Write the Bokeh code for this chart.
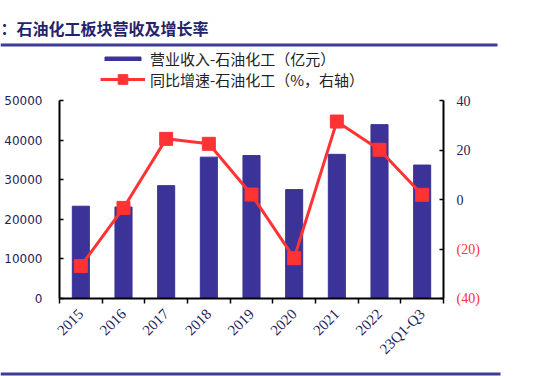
import math
from bokeh.plotting import figure
from bokeh.layouts import column, row
from bokeh.models import (Range1d, LinearAxis, FixedTicker, ColumnDataSource, Label,
                          BoxAnnotation, Legend, LegendItem)
from bokeh.embed import file_html
from bokeh.resources import INLINE

categories = ["2015", "2016", "2017", "2018", "2019", "2020", "2021", "2022", "23Q1-Q3"]
revenue = [23300, 23100, 28500, 35700, 36100, 27500, 36400, 43900, 33700]
growth = [-26.9, -3.4, 24.5, 22.5, 2.0, -23.7, 31.5, 20.1, 1.9]
left_ticks = [0, 10000, 20000, 30000, 40000, 50000]
right_ticks = [40, 20, 0, -20, -40]
right_labels = ["40", "20", "0", "(20)", "(40)"]
title_text = "：石油化工板块营收及增长率"
legend_labels = ["营业收入-石油化工（亿元）", "同比增速-石油化工（%，右轴）"]

NAVY = "#3b3397"
RED = "#ff3333"
TXT = "#1e1e5a"
RULE = "#3f3b98"
SERIF = "Liberation Serif"
SANS = "DejaVu Sans"
CJK = "Noto Sans CJK SC"
NAN = float("nan")

W, H = 535, 376
TOP_H = 88          # header strip
MAIN_H = 278        # chart strip
FOOT_H = H - TOP_H - MAIN_H
FRAME_TOP = 12      # frame top inside chart strip
FRAME_BOT = 68      # space below frame inside chart strip
MAIN_W = 445
SIDE_W = W - MAIN_W


def bare(width, height, xr, yr):
    f = figure(width=width, height=height, x_range=xr, y_range=yr, output_backend="svg",
               toolbar_location=None, x_axis_type=None, y_axis_type=None,
               min_border=0, min_border_left=0, min_border_right=0, min_border_top=0,
               min_border_bottom=0)
    f.frame_align = False
    f.xgrid.visible = False
    f.ygrid.visible = False
    f.outline_line_color = None
    return f


# ---------- header: title, rule, legend ----------
top = bare(W, TOP_H, Range1d(0, W), Range1d(0, TOP_H))
top.add_layout(Label(x=0, y=TOP_H - 27.5, text=title_text, text_font=CJK, text_font_size="16px",
                     text_font_style="bold", text_color="#23236b", text_baseline="middle",
                     text_align="left"))
top.add_layout(BoxAnnotation(left=0, right=497, top=TOP_H - 43, bottom=TOP_H - 46,
                             fill_color=RULE, fill_alpha=1, line_color=None))
# legend proxies (NaN data: nothing drawn in the strip, only used for legend glyphs)
d_bar = top.vbar(x=[NAN], top=[NAN], width=1, color=NAVY)
d_line = top.line(x=[NAN], y=[NAN], line_color=RED, line_width=3)
d_mk = top.scatter(x=[NAN], y=[NAN], marker="square", size=11, fill_color=RED, line_color=RED)
leg_kw = dict(label_height=14, label_standoff=5, padding=0, margin=0, border_line_color=None,
              background_fill_alpha=0, label_text_font=CJK, label_text_font_size="15px",
              label_text_color="#222222")
top.add_layout(Legend(items=[LegendItem(label=legend_labels[0], renderers=[d_bar])],
                      location=(100, TOP_H - 69), glyph_width=45, glyph_height=5, **leg_kw), "center")
top.add_layout(Legend(items=[LegendItem(label=legend_labels[1], renderers=[d_line, d_mk])],
                      location=(100, TOP_H - 91), glyph_width=45, glyph_height=24, **leg_kw), "center")

# ---------- main chart ----------
xs = [i + 0.5 for i in range(len(categories))]
src = ColumnDataSource(dict(x=xs, rev=revenue, g=growth))

p = figure(width=MAIN_W, height=MAIN_H, x_range=Range1d(0, len(categories)), y_range=Range1d(0, 50000),
           output_backend="svg", toolbar_location=None,
           min_border_left=59, min_border_right=2, min_border_top=FRAME_TOP,
           min_border_bottom=FRAME_BOT)
p.extra_y_ranges = {"right": Range1d(-40, 40)}
p.xgrid.visible = False
p.ygrid.visible = False
p.outline_line_color = None

xa = p.xaxis[0]
xa.ticker = FixedTicker(ticks=xs, minor_ticks=list(range(len(categories) + 1)))
xa.major_label_overrides = {x: c for x, c in zip(xs, categories)}
xa.major_label_orientation = math.pi / 4
xa.major_tick_in = 0
xa.major_tick_out = 0
xa.minor_tick_in = 0
xa.minor_tick_out = 5
xa.minor_tick_line_color = "black"
xa.minor_tick_line_width = 1.5
xa.axis_line_width = 2
xa.major_label_text_font = SERIF
xa.major_label_text_font_size = "15px"
xa.major_label_text_color = TXT
xa.major_label_standoff = 8

ya = p.yaxis[0]
ya.ticker = FixedTicker(ticks=left_ticks)
ya.major_tick_in = 4
ya.major_tick_out = 0
ya.minor_tick_in = 0
ya.minor_tick_out = 0
ya.axis_line_width = 2
ya.major_tick_line_width = 1.5
ya.major_label_text_font = SANS
ya.major_label_text_font_size = "12px"
ya.major_label_text_color = TXT
ya.major_label_standoff = 17

# right axis: line + inward ticks only (labels drawn in the side strip)
ra = LinearAxis(y_range_name="right", ticker=FixedTicker(ticks=[], minor_ticks=right_ticks))
ra.major_tick_in = 0
ra.major_tick_out = 0
ra.minor_tick_in = 4
ra.minor_tick_out = 0
ra.minor_tick_line_color = "black"
ra.minor_tick_line_width = 1.5
ra.axis_line_width = 2
ra.major_label_standoff = 0
p.add_layout(ra, "right")

p.vbar(x="x", top="rev", width=0.4, color=NAVY, source=src)
p.line(x="x", y="g", y_range_name="right", line_color=RED, line_width=3, source=src)
p.scatter(x="x", y="g", y_range_name="right", marker="square", size=13,
          fill_color=RED, line_color=RED, source=src)

# ---------- right-axis tick labels (navy for >=0, red in parentheses for <0) ----------
px_per_unit = (MAIN_H - FRAME_TOP - FRAME_BOT) / 80.0
side = bare(SIDE_W, MAIN_H, Range1d(0, SIDE_W),
            Range1d(-40 - FRAME_BOT / px_per_unit, 40 + FRAME_TOP / px_per_unit))
lab_src = ColumnDataSource(dict(
    x=[456 - MAIN_W] * len(right_ticks), y=right_ticks, t=right_labels,
    c=[TXT if v >= 0 else RED for v in right_ticks]))
side.text(x="x", y="y", text="t", text_color="c", source=lab_src, text_align="left",
          text_baseline="middle", text_font={"value": SERIF}, text_font_size="14px")

# ---------- footer rule ----------
foot = bare(W, FOOT_H, Range1d(0, W), Range1d(0, FOOT_H))
foot.add_layout(BoxAnnotation(left=0, right=500, top=FOOT_H - 4, bottom=FOOT_H - 7,
                              fill_color=RULE, fill_alpha=1, line_color=None))

layout = column(top, row(p, side), foot)
open("out.html", "w").write(file_html(layout, INLINE))
